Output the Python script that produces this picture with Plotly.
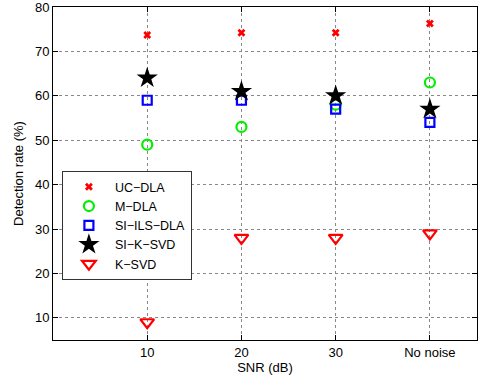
import plotly.graph_objects as go

categories = [1, 2, 3, 4]
tick_labels = ["10", "20", "30", "No noise"]
uc_dla = [73.7, 74.2, 74.2, 76.3]
m_dla = [49, 53, 58, 63]
si_ils_dla = [59, 59, 57, 54]
si_k_svd = [64, 61, 60, 57]
k_svd = [9, 28, 28, 29]

fig = go.Figure()
fig.add_trace(go.Scatter(x=categories, y=uc_dla, mode="markers", name="UC\u2212DLA",
                         marker=dict(symbol="x", size=7, color="red", line=dict(width=0))))
fig.add_trace(go.Scatter(x=categories, y=m_dla, mode="markers", name="M\u2212DLA",
                         marker=dict(symbol="circle-open", size=10, color="#00ee00", line=dict(width=2.2))))
fig.add_trace(go.Scatter(x=categories, y=si_ils_dla, mode="markers", name="SI\u2212ILS\u2212DLA",
                         marker=dict(symbol="square-open", size=9, color="blue", line=dict(width=2.2))))
fig.add_trace(go.Scatter(x=categories, y=si_k_svd, mode="markers", name="SI\u2212K\u2212SVD",
                         marker=dict(symbol="star", size=16, color="black", line=dict(width=0))))
fig.add_trace(go.Scatter(x=categories, y=k_svd, mode="markers", name="K\u2212SVD",
                         marker=dict(symbol="triangle-down-open", size=12, color="red", line=dict(width=2.2))))

fig.update_layout(
    width=482, height=382,
    margin=dict(l=53, r=5, t=7, b=42, autoexpand=False),
    plot_bgcolor="white", paper_bgcolor="white",
    font=dict(family="Liberation Sans, Arial, sans-serif", size=13, color="black"),
    xaxis=dict(range=[0, 4.5], tickvals=categories, ticktext=tick_labels, automargin=False,
               showline=True, linecolor="black", linewidth=1, mirror="ticks",
               ticks="inside", ticklen=5, tickcolor="black", ticklabeloverflow="allow",
               showgrid=True, gridcolor="#888888", griddash="dot", gridwidth=1,
               zeroline=False, title=dict(text="SNR (dB)", standoff=4, font=dict(size=13))),
    yaxis=dict(range=[5, 80], tickvals=[10, 20, 30, 40, 50, 60, 70, 80], automargin=False,
               showline=True, linecolor="black", linewidth=1, mirror="ticks",
               ticks="inside", ticklen=5, tickcolor="black", ticklabeloverflow="allow",
               showgrid=True, gridcolor="#888888", griddash="dot", gridwidth=1,
               zeroline=False, title=dict(text="Detection rate (%)", standoff=8, font=dict(size=13))),
    legend=dict(x=0.021, y=0.507, xanchor="left", yanchor="top",
                bordercolor="#333333", borderwidth=1, bgcolor="white",
                font=dict(size=12.5), tracegroupgap=0, itemwidth=42),
    showlegend=True,
)

fig.write_html("out.html")
